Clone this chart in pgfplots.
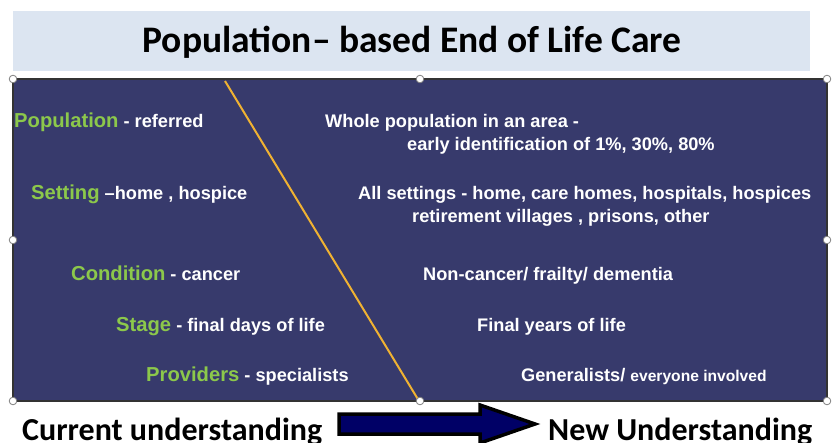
\documentclass[border=0pt]{standalone}
\usepackage{fontspec}
\setmainfont{Liberation Sans}
\newfontfamily\calibri{Carlito}
\usepackage{pgfplots}
\pgfplotsset{compat=1.18}
\definecolor{navybg}{HTML}{373A6C}
\definecolor{lgreen}{HTML}{8CC84B}
\definecolor{titlebg}{HTML}{DCE5F1}
\definecolor{gold}{HTML}{F0B232}
\definecolor{arrownavy}{HTML}{000066}
\begin{document}
\begin{tikzpicture}
\begin{axis}[
  scale only axis, width=832pt, height=443pt,
  xmin=0, xmax=832, ymin=0, ymax=443, y dir=reverse,
  hide axis, clip=true,
]
\fill[white] (axis cs:0,0) rectangle (axis cs:832,443);
\fill[titlebg] (axis cs:13,11) rectangle (axis cs:810,71);
\node[font=\calibri\bfseries\fontsize{37.5}{40}\selectfont, anchor=center] at (axis cs:412,42) {Population– based End of Life Care};
\draw[fill=navybg, draw=black!80, line width=2pt] (axis cs:13,79) rectangle (axis cs:827,401);
% diagonal
\addplot[gold, line width=2pt, no marks] coordinates {(225,81) (419,401)};
% handles
\foreach \hx/\hy in {13/79,420/79,827/79,13/240,827/240,13/401,420/401,827/401}{
  \edef\tmp{\noexpand\draw[fill=white, draw=gray, line width=0.8pt] (axis cs:\hx,\hy) circle[radius=3.8pt];}\tmp
}
% left texts
\tikzset{lab/.style={anchor=base west, inner sep=0pt, font=\bfseries\fontsize{18.2}{21}\selectfont, text=white}}
\newcommand{\gl}[1]{{\color{lgreen}\fontsize{20.2}{22}\selectfont #1}}
\node[lab] at (axis cs:14,128) {\gl{Population} - referred};
\node[lab] at (axis cs:31,200) {\gl{Setting} –home , hospice};
\node[lab] at (axis cs:71,281) {\gl{Condition} - cancer};
\node[lab] at (axis cs:116,331) {\gl{Stage} - final days of life};
\node[lab] at (axis cs:146,381) {\gl{Providers} - specialists};
% right texts
\node[lab] at (axis cs:325,128) {Whole population in an area -};
\node[lab] at (axis cs:407,151) {early identification of 1\%, 30\%, 80\%};
\node[lab] at (axis cs:358,200) {All settings - home, care homes, hospitals, hospices};
\node[lab] at (axis cs:412,223) {retirement villages , prisons, other};
\node[lab] at (axis cs:423,281) {Non-cancer/ frailty/ dementia};
\node[lab] at (axis cs:477,331) {Final years of life};
\node[lab] at (axis cs:521,381) {Generalists/ {\fontsize{15.6}{18}\selectfont everyone involved}};
% arrow
\draw[fill=arrownavy, draw=black, line width=3.5pt, line join=miter]
  (axis cs:339,414) -- (axis cs:480,414) -- (axis cs:480,405) -- (axis cs:535,424)
  -- (axis cs:480,443) -- (axis cs:480,434) -- (axis cs:339,434) -- cycle;
% bottom labels
\node[font=\calibri\bfseries\fontsize{32}{36}\selectfont, anchor=base west, inner sep=0pt] at (axis cs:22,440) {Current understanding};
\node[font=\calibri\bfseries\fontsize{32}{36}\selectfont, anchor=base west, inner sep=0pt] at (axis cs:548,440) {New Understanding};
\end{axis}
\end{tikzpicture}
\end{document}
